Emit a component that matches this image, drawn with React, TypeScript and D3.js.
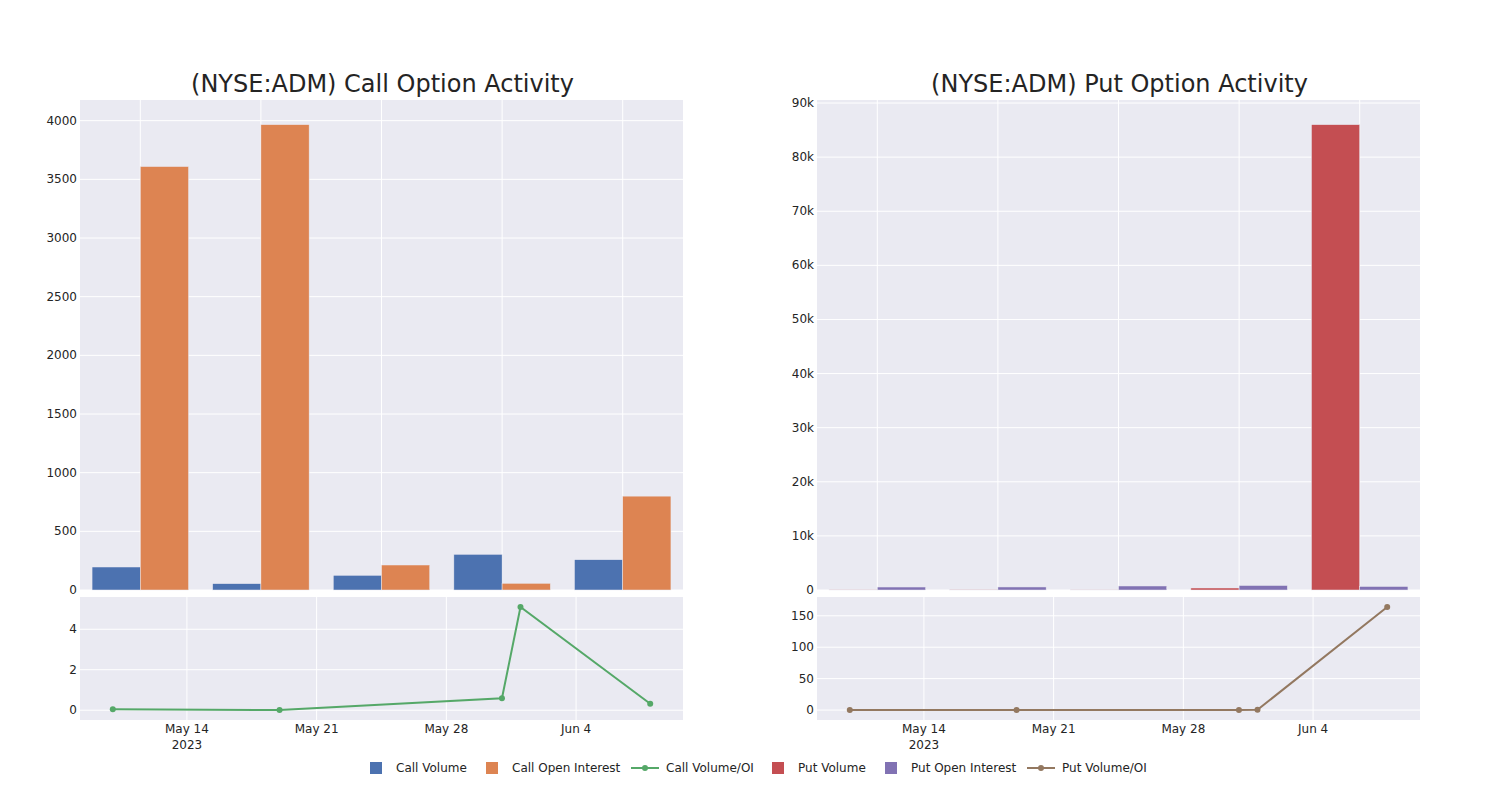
import React from "react";
import * as d3 from "d3";

const categories = ["A", "B", "C", "D", "E"];
const callVolume = [196, 54, 125, 304, 258];
const callOpenInterest = [3609, 3966, 213, 57, 800];
const putVolume = [60, 80, 50, 370, 86000];
const putOpenInterest = [550, 560, 740, 830, 650];

const ratioDates = ["2023-05-10", "2023-05-19", "2023-05-31", "2023-06-01", "2023-06-08"];
const callRatio = [0.05, 0.01, 0.59, 5.1, 0.32];
const putRatio = [0.1, 0.15, 0.07, 0.45, 164];

const callYTicks = [0, 500, 1000, 1500, 2000, 2500, 3000, 3500, 4000];
const putYTicks = [0, 10000, 20000, 30000, 40000, 50000, 60000, 70000, 80000, 90000];
const callRatioTicks = [0, 2, 4];
const putRatioTicks = [0, 50, 100, 150];
const dateTicks = ["2023-05-14", "2023-05-21", "2023-05-28", "2023-06-04"];

const C = {
  blue: "#4c72b0",
  orange: "#dd8452",
  green: "#55a868",
  red: "#c44e52",
  purple: "#8172b3",
  brown: "#937860",
  bg: "#eaeaf2",
  text: "#242424",
};

const FONT = "'DejaVu Sans', 'Open Sans', sans-serif";
const parse = d3.utcParse("%Y-%m-%d");

function Panel({
  x0, title, volume, oi, ratio, volColor, oiColor, lineColor, yTicks, ratioTicks, fmt,
}: any) {
  const w = 603;
  const topY0 = 100, topY1 = 590;
  const botY0 = 597, botY1 = 720;
  const xBand = d3.scaleBand<string>().domain(categories).range([x0, x0 + w]).paddingInner(0).paddingOuter(0);
  const maxV = d3.max([...volume, ...oi]) as number;
  const y = d3.scaleLinear().domain([0, maxV * 1.053]).range([topY1, topY0]);
  const groupW = xBand.bandwidth() * 0.8;
  const barW = groupW / 2;

  const dates = ratioDates.map((d) => parse(d) as Date);
  const dMin = d3.min(dates)!.getTime();
  const dMax = d3.max(dates)!.getTime();
  const dPad = (dMax - dMin) * 0.061;
  const xt = d3.scaleUtc().domain([new Date(dMin - dPad), new Date(dMax + dPad)]).range([x0, x0 + w]);
  const rMin = d3.min(ratio) as number, rMax = d3.max(ratio) as number;
  const rPad = (rMax - rMin) * 0.097;
  const yr = d3.scaleLinear().domain([rMin - rPad, rMax + rPad]).range([botY1, botY0]);
  const line = d3.line<number>().x((_, i) => xt(dates[i])).y((v) => yr(v));
  const tickFmt = d3.utcFormat("%b %-d");

  return (
    <g>
      <text x={x0 + w / 2 + 1} y={92} textAnchor="middle" fontSize={24} fill={C.text} fontFamily={FONT}>{title}</text>
      <rect x={x0} y={topY0} width={w} height={topY1 - topY0} fill={C.bg} />
      {categories.map((c) => (
        <line key={c} x1={xBand(c)! + xBand.bandwidth() / 2} x2={xBand(c)! + xBand.bandwidth() / 2} y1={topY0} y2={topY1} stroke="#fff" strokeWidth={1} />
      ))}
      {yTicks.map((t: number) => (
        <g key={t}>
          <line x1={x0} x2={x0 + w} y1={y(t)} y2={y(t)} stroke="#fff" strokeWidth={1} />
          <text x={x0 - 3} y={y(t) + 4} textAnchor="end" fontSize={12} fill={C.text} fontFamily={FONT}>{fmt(t)}</text>
        </g>
      ))}
      {categories.map((c, i) => {
        const cx = xBand(c)! + xBand.bandwidth() / 2;
        return (
          <g key={c}>
            <rect x={cx - barW} y={y(volume[i])} width={barW} height={topY1 - y(volume[i])} fill={volColor} stroke={C.bg} strokeWidth={0.5} />
            <rect x={cx} y={y(oi[i])} width={barW} height={topY1 - y(oi[i])} fill={oiColor} stroke={C.bg} strokeWidth={0.5} />
          </g>
        );
      })}
      <rect x={x0} y={botY0} width={w} height={botY1 - botY0} fill={C.bg} />
      {dateTicks.map((d) => {
        const dt = parse(d)!;
        return (
          <g key={d}>
            <line x1={xt(dt)} x2={xt(dt)} y1={botY0} y2={botY1} stroke="#fff" strokeWidth={1} />
            <text x={xt(dt)} y={733} textAnchor="middle" fontSize={12} fill={C.text} fontFamily={FONT}>{tickFmt(dt)}</text>
          </g>
        );
      })}
      <text x={xt(parse(dateTicks[0])!)} y={749} textAnchor="middle" fontSize={12} fill={C.text} fontFamily={FONT}>2023</text>
      {ratioTicks.map((t: number) => (
        <g key={t}>
          <line x1={x0} x2={x0 + w} y1={yr(t)} y2={yr(t)} stroke="#fff" strokeWidth={1} />
          <text x={x0 - 3} y={yr(t) + 4} textAnchor="end" fontSize={12} fill={C.text} fontFamily={FONT}>{t}</text>
        </g>
      ))}
      <path d={line(ratio) || ""} fill="none" stroke={lineColor} strokeWidth={2} />
      {ratio.map((v: number, i: number) => (
        <circle key={i} cx={xt(dates[i])} cy={yr(v)} r={3} fill={lineColor} />
      ))}
    </g>
  );
}

const legendItems = [
  { label: "Call Volume", color: C.blue, kind: "bar", x: 370 },
  { label: "Call Open Interest", color: C.orange, kind: "bar", x: 486 },
  { label: "Call Volume/OI", color: C.green, kind: "line", x: 631 },
  { label: "Put Volume", color: C.red, kind: "bar", x: 772 },
  { label: "Put Open Interest", color: C.purple, kind: "bar", x: 885 },
  { label: "Put Volume/OI", color: C.brown, kind: "line", x: 1027 },
];

export default function App() {
  const kfmt = (v: number) => (v === 0 ? "0" : `${v / 1000}k`);
  return (
    <svg width={1500} height={800} style={{ position: "absolute", left: 0, top: 0 }}>
      <rect width={1500} height={800} fill="#fff" />
      <Panel x0={80} title="(NYSE:ADM) Call Option Activity" volume={callVolume} oi={callOpenInterest} ratio={callRatio}
        volColor={C.blue} oiColor={C.orange} lineColor={C.green} yTicks={callYTicks} ratioTicks={callRatioTicks} fmt={(v: number) => String(v)} />
      <Panel x0={817} title="(NYSE:ADM) Put Option Activity" volume={putVolume} oi={putOpenInterest} ratio={putRatio}
        volColor={C.red} oiColor={C.purple} lineColor={C.brown} yTicks={putYTicks} ratioTicks={putRatioTicks} fmt={kfmt} />
      {legendItems.map((it) => (
        <g key={it.label}>
          {it.kind === "bar" ? (
            <rect x={it.x} y={762} width={12} height={12} fill={it.color} />
          ) : (
            <g>
              <line x1={it.x} x2={it.x + 28} y1={768} y2={768} stroke={it.color} strokeWidth={2} />
              <circle cx={it.x + 14} cy={768} r={3} fill={it.color} />
            </g>
          )}
          <text x={it.kind === "bar" ? it.x + 26 : it.x + 35} y={772} fontSize={12} fill={C.text} fontFamily={FONT}>{it.label}</text>
        </g>
      ))}
    </svg>
  );
}
